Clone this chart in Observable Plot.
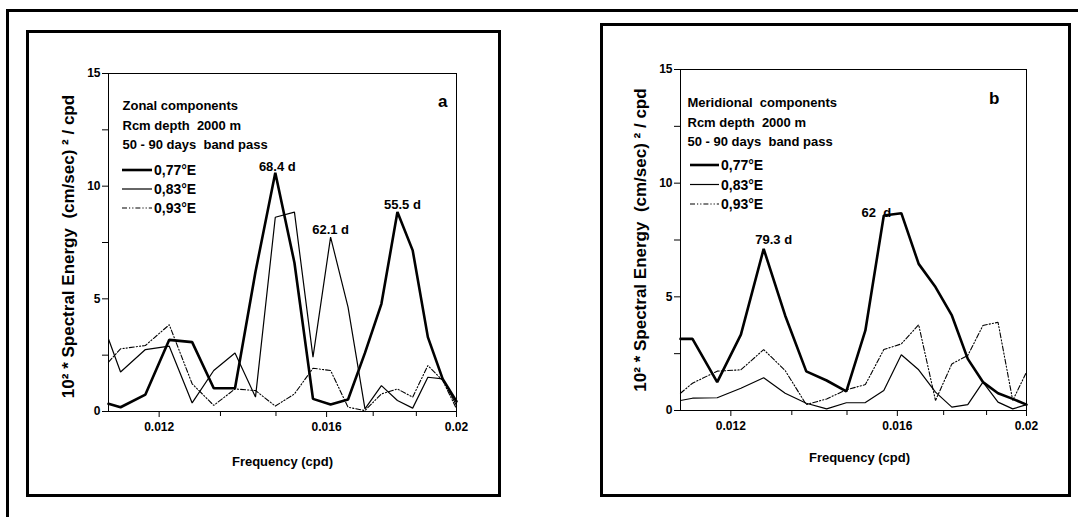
<!DOCTYPE html>
<html>
<head>
<meta charset="utf-8">
<script src="https://cdn.jsdelivr.net/npm/d3@7"></script>
<script src="https://cdn.jsdelivr.net/npm/@observablehq/plot@0.6"></script>
<style>
  body { margin: 0; background: #fff; font-family: "Liberation Sans", Arial, sans-serif; }
  #page { position: relative; width: 1078px; height: 517px; overflow: hidden; background: #fff; }
  .box { position: absolute; border: 3px solid #000; box-sizing: border-box; }
  .panel { position: absolute; }
</style>
</head>
<body>
<div id="page">
  <div class="box" style="left:6px;top:9px;width:1300px;height:700px;"></div>
  <div class="box" style="left:26px;top:30px;width:475px;height:467px;"></div>
  <div class="box" style="left:600px;top:23px;width:471px;height:474px;"></div>
  <div class="panel" id="pa" style="left:29px;top:33px;width:469px;height:461px;"></div>
  <div class="panel" id="pb" style="left:603px;top:26px;width:465px;height:468px;"></div>
</div>
<script>
// ---------------- data ----------------
const frequency = [0.011, 0.01123, 0.01172, 0.01221, 0.0127, 0.01318, 0.01367, 0.01416, 0.01465, 0.01514,
                   0.01563, 0.01611, 0.0166, 0.01709, 0.01758, 0.01807, 0.01855, 0.01904, 0.01953, 0.02];
const seriesNames = ["0,77°E", "0,83°E", "0,93°E"];

// Panel a : zonal components
const zonal077 = [0.34, 0.19, 0.75, 3.18, 3.08, 1.03, 1.03, 6.2, 10.6, 6.6, 0.56, 0.31, 0.53, 2.6, 4.78, 8.85, 7.15, 3.3, 1.45, 0.45];
const zonal083 = [3.22, 1.75, 2.75, 2.9, 0.38, 1.82, 2.6, 0.64, 8.62, 8.85, 2.41, 7.74, 4.63, 0.12, 1.15, 0.49, 0.15, 1.52, 1.45, 0.27];
const zonal093 = [2.19, 2.78, 2.93, 3.85, 1.23, 0.27, 1.0, 0.93, 0.24, 0.78, 1.92, 1.82, 0.19, 0.04, 0.78, 1.0, 0.64, 2.04, 1.38, 0.12];

// Panel b : meridional components
const merid077 = [3.15, 3.15, 1.25, 3.34, 7.11, 4.18, 1.72, 1.32, 0.84, 3.52, 8.58, 8.68, 6.45, 5.43, 4.18, 2.27, 1.25, 0.76, 0.51, 0.26];
const merid083 = [0.44, 0.54, 0.56, 0.98, 1.44, 0.76, 0.32, 0.07, 0.34, 0.35, 0.88, 2.45, 1.79, 0.81, 0.15, 0.26, 1.25, 0.37, 0.07, 0.26];
const merid093 = [0.76, 1.2, 1.73, 1.79, 2.68, 1.76, 0.26, 0.51, 0.91, 1.14, 2.68, 2.93, 3.77, 0.44, 2.05, 2.42, 3.74, 3.88, 0.44, 1.69];

// ticks
const xTicks = [0.012, 0.016, 0.02];
const xMinorTicks = [0.013333, 0.014667, 0.017333, 0.018667];
const yTicks = [0, 5, 10, 15];
const yMinorTicks = [2.5, 7.5, 12.5];

// texts
const titleA = ["Zonal components", "Rcm depth\u00a0 2000 m", "50 - 90 days\u00a0 band pass"];
const titleB = ["Meridional\u00a0 components", "Rcm depth\u00a0 2000 m", "50 - 90 days\u00a0 band pass"];
const yTitle = "10² * Spectral Energy\u00a0 (cm/sec) ² / cpd";
const xTitle = "Frequency (cpd)";
// peak labels: text, series index, point index
const peakLabelsA = [["68.4 d", 0, 8], ["62.1 d", 1, 11], ["55.5 d", 0, 15]];
const peakLabelsB = [["79.3 d", 0, 4], ["62\u00a0 d", 0, 11]];

// ---------------- drawing ----------------
const FONT = "'Liberation Sans', Arial, Helvetica, sans-serif";
const lineStyles = [
  {strokeWidth: 2.6},
  {strokeWidth: 1.2},
  {strokeWidth: 1.1, strokeDasharray: "5,2,1.2,2,1.2,2"}
];

function toRows(values) { return frequency.map((f, i) => ({f, v: values[i]})); }

function legendMark(ox, oy, gap, len, textX) {
  return (index, scales, values, dims) => {
    const g = d3.create("svg:g");
    seriesNames.forEach((name, i) => {
      const y = dims.marginTop + oy + i * gap;
      const x0 = dims.marginLeft + ox;
      g.append("line")
        .attr("x1", x0).attr("x2", x0 + len).attr("y1", y).attr("y2", y)
        .attr("stroke", "#000").attr("stroke-width", lineStyles[i].strokeWidth)
        .attr("stroke-dasharray", lineStyles[i].strokeDasharray || null);
      g.append("text")
        .attr("x", dims.marginLeft + textX).attr("y", y).attr("dy", "0.36em")
        .attr("font-size", 14).attr("font-weight", "bold").attr("font-family", FONT).attr("text-anchor", "start")
        .attr("fill", "#000")
        .text(name);
    });
    return g.node();
  };
}

function panel(cfg) {
  const series = cfg.series;
  const marks = [
    Plot.frame({stroke: "#000", strokeWidth: 1}),
    // ticks (outward) drawn by the axis marks, labels drawn as bold text on the same scales
    Plot.axisY(yTicks, {tickSize: 6, tickFormat: () => "", label: null}),
    Plot.axisY(yMinorTicks, {tickSize: 6, tickFormat: () => "", label: null}),
    Plot.axisX(xTicks, {tickSize: 6, tickFormat: () => "", label: null}),
    Plot.axisX(xMinorTicks, {tickSize: 5, tickFormat: () => "", label: null}),
    Plot.text(yTicks, {y: d => d, text: d => String(d), frameAnchor: "left", textAnchor: "end", lineAnchor: "middle",
      dx: -8, fontSize: 12, fontWeight: "bold"}),
    Plot.text(xTicks, {x: d => d, text: d => String(d), frameAnchor: "bottom", textAnchor: "middle", lineAnchor: "top",
      dy: 11, fontSize: 12, fontWeight: "bold"}),
    ...series.map((vals, i) => Plot.line(toRows(vals), {x: "f", y: "v", stroke: "#000", ...lineStyles[i], strokeLinejoin: "miter"})),
    Plot.text([cfg.title.join("\n")], {text: d => d, frameAnchor: "top-left", textAnchor: "start", lineAnchor: "top",
      lineHeight: 1.5, dx: cfg.titleDx, dy: cfg.titleDy, fontSize: 13, fontWeight: "bold"}),
    Plot.text([cfg.letter], {text: d => d, frameAnchor: "top-right", textAnchor: "end", lineAnchor: "bottom",
      dx: cfg.letterDx, dy: cfg.letterDy, fontSize: 17, fontWeight: "bold"}),
    Plot.text([yTitle], {text: d => d, frameAnchor: "left", rotate: -90, textAnchor: "middle", lineAnchor: "bottom",
      dx: -35, dy: cfg.yTitleDy, fontSize: 17, fontWeight: "bold"}),
    Plot.text([xTitle], {text: d => d, frameAnchor: "bottom", textAnchor: "middle", lineAnchor: "bottom",
      dx: cfg.xTitleDx, dy: cfg.xTitleDy, fontSize: 13, fontWeight: "bold"}),
    ...cfg.peaks.map(([label, s, k], j) => Plot.text([label], {
      x: () => frequency[k], y: () => series[s][k], text: d => d, textAnchor: "middle", lineAnchor: "bottom",
      dx: cfg.peakOffsets[j][0], dy: cfg.peakOffsets[j][1], fontSize: 13, fontWeight: "bold"})),
    legendMark(cfg.legend[0], cfg.legend[1], cfg.legend[2], cfg.legend[3], cfg.legend[4])
  ];
  const chart = Plot.plot({
    width: cfg.width, height: cfg.height,
    marginLeft: cfg.m[0], marginRight: cfg.m[1], marginTop: cfg.m[2], marginBottom: cfg.m[3],
    x: {type: "log", domain: [0.011, 0.02]},
    y: {domain: [0, 15]},
    style: {fontFamily: FONT, background: "transparent", color: "#000", overflow: "visible"},
    marks
  });
  document.getElementById(cfg.el).appendChild(chart);
}

panel({
  el: "pa", width: 469, height: 461, m: [79, 42, 40, 83],
  series: [zonal077, zonal083, zonal093],
  title: titleA, titleDx: 14, titleDy: 23,
  letter: "a", letterDx: -9, letterDy: 33,
  yTitleDy: 4, xTitleDx: 0, xTitleDy: 54,
  peaks: peakLabelsA, peakOffsets: [[2, -2], [0, -3], [5, -3]],
  legend: [14, 97, 19, 30, 46]
});

panel({
  el: "pb", width: 465, height: 468, m: [77, 42, 43, 84],
  series: [merid077, merid083, merid093],
  title: titleB, titleDx: 7, titleDy: 24,
  letter: "b", letterDx: -27, letterDy: 34,
  yTitleDy: 0, xTitleDx: 6, xTitleDy: 51,
  peaks: peakLabelsB, peakOffsets: [[10, -5], [-25, 4]],
  legend: [10, 96, 19.5, 29, 41]
});
</script>
</body>
</html>
